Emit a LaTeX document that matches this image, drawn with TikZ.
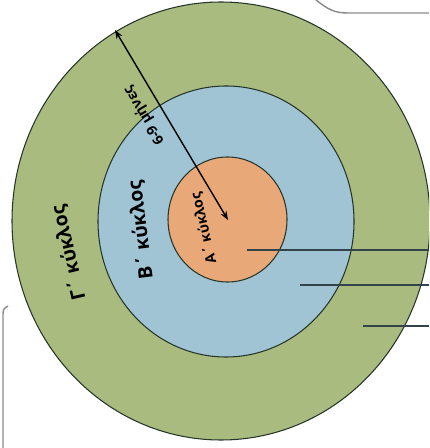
\documentclass[tikz,border=0pt]{standalone}
\usepackage{fontspec}
\setmainfont{Open Sans}
\usetikzlibrary{arrows.meta,positioning,calc}
\definecolor{Cc}{HTML}{A9BB7E}
\definecolor{Bc}{HTML}{A0C4D3}
\definecolor{Ac}{HTML}{E9A877}
\definecolor{rim}{HTML}{26352A}
\definecolor{leadc}{HTML}{33434A}
\definecolor{frame}{HTML}{8A8A8A}
\tikzset{
  ring/.style={draw=rim, line width=0.6pt},
  lab/.style={font=\bfseries, inner sep=1pt},
  span/.style={{Stealth[length=5pt]}-{Stealth[length=5pt]}, line width=0.8pt},
  lead/.style={draw=leadc, line width=1.1pt},
  edgebox/.style={draw=frame, line width=0.8pt},
}
\begin{document}
\begin{tikzpicture}[x=0.02cm, y=-0.02cm]
  \useasboundingbox (0,0) rectangle (429,448);
  \clip (0,0) rectangle (429,448);
  % rings, outer to inner
  \draw[ring, fill=Cc] (221,221) ellipse [x radius=209, y radius=219];
  \draw[ring, fill=Bc] (226,221.5) ellipse [x radius=128, y radius=135.5];
  \draw[ring, fill=Ac] (227.5,219.5) ellipse [x radius=59.5, y radius=62.5];
  \node[lab, font=\bfseries\fontsize{11}{12}\selectfont, rotate=103] (ringC) at (69,253) {Γ΄ κύκλος};
  \node[lab, font=\bfseries\fontsize{11}{12}\selectfont, rotate=97] (ringB) at (141,230) {Β΄ κύκλος};
  \node[lab, font=\bfseries\fontsize{8}{9}\selectfont, rotate=103] (ringA) at (204,228) {Α΄ κύκλος};
  % radius arrow
  \coordinate (ctr) at (228,220);
  \coordinate (top) at (115,30);
  \draw[span] (ctr) -- (top)
    node[lab, font=\bfseries\fontsize{8}{9}\selectfont, pos=0.6, sloped, allow upside down, above=5pt] (dist) {6-9 μήνες};
  % leader lines to the right
  \coordinate (pA) at (247,250); \coordinate (eA) at (430,250);
  \coordinate (pB) at (300,285); \coordinate (eB) at (430,285);
  \coordinate (pC) at (363,326); \coordinate (eC) at (430,326);
  \draw[lead] (pA) -- (eA);
  \draw[lead] (pB) -- (eB);
  \draw[lead] (pC) -- (eC);
  % edges of neighbouring boxes
  \draw[edgebox] (315,-1) .. controls (328,10) and (335,13) .. (348,13) -- (431,13);
  \draw[edgebox] (8,306) .. controls (3,309) .. (3,317) -- (3,450);
\end{tikzpicture}
\end{document}
